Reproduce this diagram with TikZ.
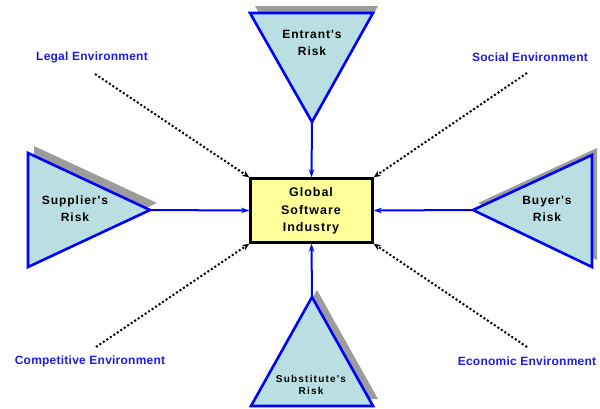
\documentclass[tikz,border=0pt]{standalone}
\usepackage{fontspec}
\setmainfont{Liberation Sans}
\usetikzlibrary{arrows.meta}
\definecolor{riskfill}{HTML}{B9DFE3}
\definecolor{riskshade}{HTML}{9C9C9C}
\definecolor{corefill}{HTML}{FFFF99}
\definecolor{envblue}{HTML}{1A1AF5}
\newfontfamily\labelfont[LetterSpace=8]{Liberation Sans Bold}
\newfontfamily\smallfont[LetterSpace=12]{Liberation Sans Bold}
\newfontfamily\envfont[LetterSpace=2]{Liberation Sans Bold}
\tikzset{
  riskshape/.style={draw=blue, line width=2.6pt, fill=riskfill, line join=miter},
  shadeshape/.style={fill=riskshade, draw=none},
  risktext/.style={align=center, font=\labelfont\fontsize{12}{17}\selectfont, inner sep=0pt},
  coretext/.style={align=center, font=\labelfont\fontsize{12.5}{17.5}\selectfont},
  corebox/.style={draw=black, line width=2.5pt, fill=corefill, inner sep=0pt},
  envtext/.style={text=envblue, font=\envfont\fontsize{12}{13}\selectfont, inner sep=0pt},
  force/.style={draw=blue, line width=2pt, -{Stealth[length=8pt,width=5.5pt]}},
  influence/.style={draw=black, line width=2pt, dash pattern=on 2pt off 2.2pt,
    -{Stealth[length=7pt,width=6pt]}}
}
\begin{document}
\begin{tikzpicture}[x=1pt,y=-1pt]
\useasboundingbox (0,0) rectangle (600,408);

% central industry box
\node[corebox, minimum width=122pt, minimum height=64pt] (core) at (311.5,210.5) {};
\node[coretext] (coretxt) at (311,211) {Global\\Software\\Industry};

% shadows behind the four risk triangles
\fill[shadeshape] (255,6) -- (378,6) -- (317,115) -- cycle;
\fill[shadeshape] (34,146) -- (157,203) -- (34,260) -- cycle;
\fill[shadeshape] (597,148) -- (597,260) -- (478,203) -- cycle;
\fill[shadeshape] (317,290) -- (378,399) -- (257,399) -- cycle;

% risk triangles
\draw[riskshape] (250,13) -- (373,13) -- (312,122) -- cycle;
\draw[riskshape] (28,153) -- (150,210) -- (28,267) -- cycle;
\draw[riskshape] (592,155) -- (592,267) -- (473,210) -- cycle;
\draw[riskshape] (312,297) -- (373,406) -- (251,406) -- cycle;

% tips of the triangles
\coordinate (entrant) at (312,122);
\coordinate (supplier) at (150,210);
\coordinate (buyer) at (473,210);
\coordinate (substitute) at (312,297);

% triangle labels
\node[risktext] (entranttxt) at (312,43) {Entrant's\\Risk};
\node[risktext] (suppliertxt) at (75,209) {Supplier's\\Risk};
\node[risktext] (buyertxt) at (547,209) {Buyer's\\Risk};
\node[align=center, inner sep=0pt, font=\smallfont\fontsize{10}{12.5}\selectfont] (substitutetxt) at (311,385) {Substitute's\\Risk};

% forces acting on the industry
\draw[force] (entrant) -- (core.north);
\draw[force] (supplier) -- (core.west);
\draw[force] (buyer) -- (core.east);
\draw[force] (substitute) -- (core.south);

% environment labels
\node[envtext] (legal) at (92,57) {Legal Environment};
\node[envtext] (social) at (530,57.5) {Social Environment};
\node[envtext] (competitive) at (90,361) {Competitive Environment};
\node[envtext] (economic) at (527,361) {Economic Environment};

\coordinate (legalend) at (95,74);
\coordinate (socialend) at (527,73);
\coordinate (competitiveend) at (96,347);
\coordinate (economicend) at (527,347);

% environmental influences
\draw[influence] (legalend) -- (core.north west);
\draw[influence] (socialend) -- (core.north east);
\draw[influence] (competitiveend) -- (core.south west);
\draw[influence] (economicend) -- (core.south east);
\end{tikzpicture}
\end{document}
